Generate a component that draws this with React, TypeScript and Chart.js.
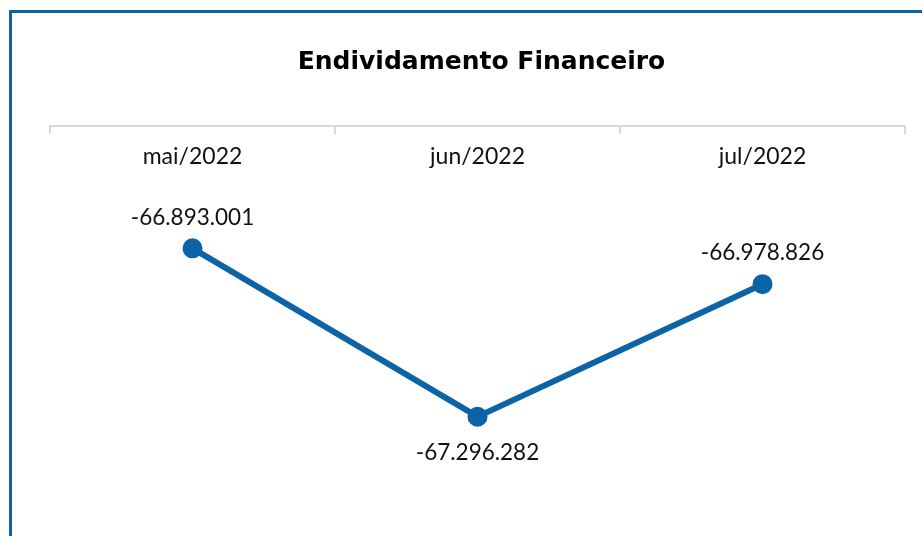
import React, { useEffect, useRef } from "react";
import { Chart, registerables } from "chart.js";

Chart.register(...registerables);

// ---- data ----
const categories = ["mai/2022", "jun/2022", "jul/2022"];
const values = [-66893001, -67296282, -66978826];
const yMin = -67400000;
const yMax = -66600000;
const title = "Endividamento Financeiro";

const BLUE = "#0c64a6";
const FONT = "Lato, 'Open Sans', sans-serif";
const TITLE_FONT = "'DejaVu Sans', Lato, sans-serif";

const fmt = (v: number) => {
  const s = Math.abs(Math.round(v))
    .toString()
    .replace(/\B(?=(\d{3})+(?!\d))/g, ".");
  return (v < 0 ? "-" : "") + s;
};

const dataLabels = {
  id: "dataLabels",
  afterDatasetsDraw(chart: any) {
    const ctx = chart.ctx;
    const meta = chart.getDatasetMeta(0);
    const data = chart.data.datasets[0].data as number[];
    ctx.save();
    ctx.font = `22.5px ${FONT}`;
    ctx.fillStyle = "#111";
    ctx.textAlign = "center";
    ctx.textBaseline = "middle";
    meta.data.forEach((pt: any, i: number) => {
      const v = data[i];
      const prev = data[i - 1];
      const next = data[i + 1];
      const isLow =
        (prev === undefined || v < prev) && (next === undefined || v < next);
      const dy = isLow ? 36 : -31;
      ctx.fillText(fmt(v), pt.x, pt.y + dy);
    });
    ctx.restore();
  },
};

export default function App() {
  const ref = useRef<HTMLCanvasElement>(null);

  useEffect(() => {
    if (!ref.current) return;
    const chart = new Chart(ref.current, {
      type: "line",
      data: {
        labels: categories,
        datasets: [
          {
            data: values,
            borderColor: BLUE,
            backgroundColor: BLUE,
            borderWidth: 6,
            pointRadius: 9,
            pointBorderWidth: 2,
            pointBackgroundColor: BLUE,
            pointBorderColor: BLUE,
            tension: 0,
            fill: false,
          },
        ],
      },
      options: {
        responsive: false,
        animation: false,
        layout: { padding: { left: 50, right: 9, top: 0, bottom: 76 } },
        plugins: {
          legend: { display: false },
          tooltip: { enabled: false },
          title: {
            display: true,
            text: title,
            color: "#000",
            font: { family: TITLE_FONT, size: 25, weight: "bold" },
            padding: { top: 47, bottom: 49 },
          },
        },
        scales: {
          x: {
            type: "category",
            position: { y: yMax } as any,
            offset: true,
            afterFit: (s: any) => {
              s.height = 0;
            },
            grid: {
              display: true,
              drawOnChartArea: false,
              drawTicks: true,
              tickLength: 7,
              color: "#d9d9d9",
              lineWidth: 2,
              offset: true,
            },
            border: { display: true, color: "#d9d9d9", width: 2 },
            ticks: {
              color: "#111",
              font: { family: FONT, size: 23 },
              padding: 10,
              maxRotation: 0,
              autoSkip: false,
            },
          },
          y: {
            position: "right",
            min: yMin,
            max: yMax,
            afterFit: (s: any) => {
              s.width = 8;
            },
            grid: { display: false },
            border: { display: false },
            ticks: { display: false },
          },
        },
      },
      plugins: [dataLabels],
    });
    return () => chart.destroy();
  }, []);

  return (
    <div
      style={{
        position: "fixed",
        left: 0,
        top: 0,
        width: 922,
        height: 536,
        background: "#fff",
        overflow: "hidden",
      }}
    >
      <div
        style={{
          position: "absolute",
          left: 9,
          top: 10,
          right: -20,
          bottom: -20,
          borderTop: `3px solid ${BLUE}`,
          borderLeft: `3px solid ${BLUE}`,
        }}
      />
      <canvas
        ref={ref}
        width={922}
        height={536}
        style={{ position: "absolute", left: 0, top: 0 }}
      />
    </div>
  );
}
